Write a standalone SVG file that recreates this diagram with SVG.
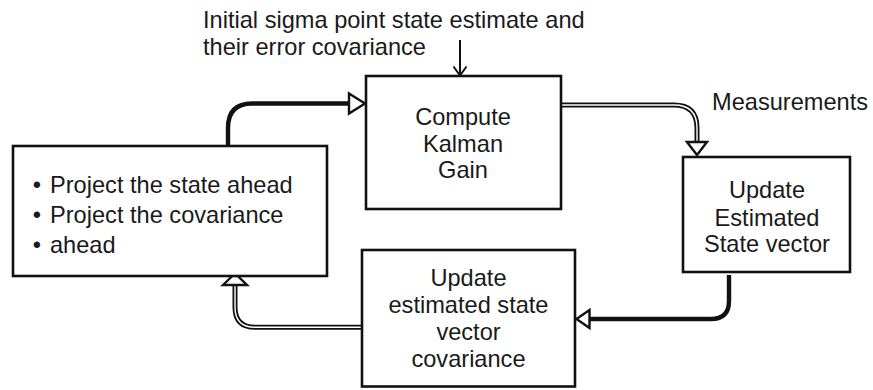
<svg xmlns="http://www.w3.org/2000/svg" width="873" height="390" viewBox="0 0 873 390">
<style>
  text { font-family: "Liberation Sans", Arial, sans-serif; font-size: 23.6px; fill: #1a1a1a; }
  .c { text-anchor: middle; }
  .box { fill: #fff; stroke: #111; stroke-width: 2.6; }
  .solid { fill: none; stroke: #111; stroke-width: 4.4; }
  .outer { fill: none; stroke: #111; stroke-width: 5; }
  .inner { fill: none; stroke: #fff; stroke-width: 1.4; }
  .head { fill: #fff; stroke: #111; stroke-width: 2.4; stroke-linejoin: miter; }
  .thin { fill: none; stroke: #111; stroke-width: 2; }
</style>
<rect width="873" height="390" fill="#fff"/>

<g id="input-label">
  <text x="203" y="28">Initial sigma point state estimate and</text>
  <text x="203" y="55">their error covariance</text>
</g>
<g id="measurements-label">
  <text x="712" y="110">Measurements</text>
</g>

<g id="connectors">
  <!-- input arrow -->
  <line class="thin" x1="460" y1="40" x2="460" y2="75"/>
  <polyline class="thin" points="453.5,66.5 460,75.5 466.5,66.5"/>

  <!-- predict -> compute gain -->
  <path class="solid" d="M228,146 V128 Q228,103.5 252,103.5 H350"/>
  <polygon class="head" points="349,93.5 365,103.5 349,113.5"/>

  <!-- compute gain -> update state -->
  <path class="outer" d="M561,105 H674 Q697,105 697,128 V142"/>
  <path class="inner" d="M562,105 H674 Q697,105 697,128 V142"/>
  <polygon class="head" points="687,142 697,155 707,142"/>

  <!-- update state -> update covariance -->
  <path class="solid" d="M729,275 V301 Q729,319 711,319 H590"/>
  <polygon class="head" points="589.5,310 576.5,319 589.5,328"/>

  <!-- update covariance -> predict -->
  <path class="outer" d="M362,327.3 H255 Q235,327.3 235,307 V286"/>
  <path class="inner" d="M361,327.3 H255 Q235,327.3 235,307 V286"/>
  <polygon class="head" points="223,285 235,273.5 247,285"/>
</g>

<g id="node-compute-gain">
  <rect class="box" x="366" y="76" width="195" height="133"/>
  <text class="c" x="463" y="125">Compute</text>
  <text class="c" x="463" y="152">Kalman</text>
  <text class="c" x="463" y="178">Gain</text>
</g>

<g id="node-predict">
  <rect class="box" x="13" y="146" width="314" height="130"/>
  <text class="c" x="37" y="193">•</text>
  <text x="50" y="193">Project the state ahead</text>
  <text class="c" x="37" y="223">•</text>
  <text x="50" y="223">Project the covariance</text>
  <text class="c" x="37" y="253">•</text>
  <text x="50" y="253">ahead</text>
</g>

<g id="node-update-state">
  <rect class="box" x="683" y="157" width="167" height="115"/>
  <text class="c" x="767" y="198">Update</text>
  <text class="c" x="767" y="226">Estimated</text>
  <text class="c" x="767" y="252">State vector</text>
</g>

<g id="node-update-covariance">
  <rect class="box" x="362" y="250" width="213" height="136.5"/>
  <text class="c" x="468.5" y="286">Update</text>
  <text class="c" x="468.5" y="313">estimated state</text>
  <text class="c" x="468.5" y="340">vector</text>
  <text class="c" x="468.5" y="367">covariance</text>
</g>
</svg>
